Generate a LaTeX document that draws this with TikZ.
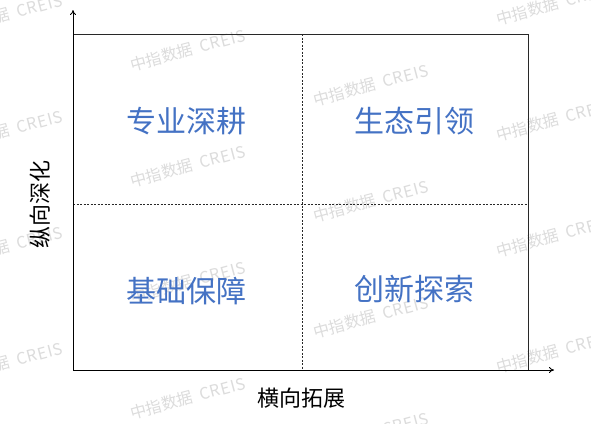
\documentclass[tikz,border=0pt]{standalone}
\usepackage{fontspec}
\setmainfont{Noto Sans CJK SC}
\usetikzlibrary{arrows.meta}
\definecolor{qblue}{RGB}{68,114,196}
\definecolor{wmgray}{RGB}{220,220,220}
\definecolor{lineg}{RGB}{40,40,40}
\begin{document}
\begin{tikzpicture}[x=1pt,y=-1pt,
  wmark/.style={text=wmgray,rotate=15,inner sep=0pt,font=\fontsize{16}{16}\selectfont},
  quad/.style={text=qblue,inner sep=0pt,font=\fontsize{30}{34}\selectfont},
  axlabel/.style={text=black,inner sep=0pt,font=\fontsize{22}{26}\selectfont},
  frameline/.style={draw=lineg,line width=0.9pt},
  axisline/.style={draw=black,line width=0.9pt,-{To[length=5pt,width=6pt]}},
  divline/.style={draw=lineg,line width=0.5pt,dash pattern=on 2pt off 1.5pt}]
\useasboundingbox (0,0) rectangle (591,423);
\fill[white] (0,0) rectangle (591,423);
% watermark
\begin{scope}
\clip (0,0) rectangle (591,423);
\foreach \i in {0,...,3}{
  \foreach \j in {-1,...,3}{
    \pgfmathsetmacro{\wx}{5+183*\i}
    \pgfmathsetmacro{\wy}{15+35*\i+116*\j}
    \node[wmark] (wm-\i-\j) at (\wx,\wy) {中指数据\hspace{0.45em}C\kern0.8pt R\kern0.8pt E\kern0.8pt I\kern0.8pt S};
  }
}
\end{scope}
% frame coordinates
\coordinate (O) at (73,370);
\coordinate (Ytip) at (73,10);
\coordinate (Xtip) at (554,370);
\coordinate (TL) at (73,34);
\coordinate (TR) at (528,34);
\coordinate (BR) at (528,370);
\coordinate (MT) at (302,34);
\coordinate (MB) at (302,370);
\coordinate (ML) at (73,204);
\coordinate (MR) at (528,204);
% dividers
\draw[divline] (MT) -- (MB);
\draw[divline] (ML) -- (MR);
% frame
\draw[frameline] (TL) -- (TR) -- (BR);
% axes
\draw[axisline] (O) -- (Ytip);
\draw[axisline] (O) -- (Xtip);
% quadrant labels
\node[quad] (q1) at (186,121) {专业深耕};
\node[quad] (q2) at (414,121) {生态引领};
\node[quad] (q3) at (186,291) {基础保障};
\node[quad] (q4) at (414,289) {创新探索};
% axis labels
\node[axlabel,rotate=90] (ylab) at (40,204) {纵向深化};
\node[axlabel] (xlab) at (301,398) {横向拓展};
\end{tikzpicture}
\end{document}
